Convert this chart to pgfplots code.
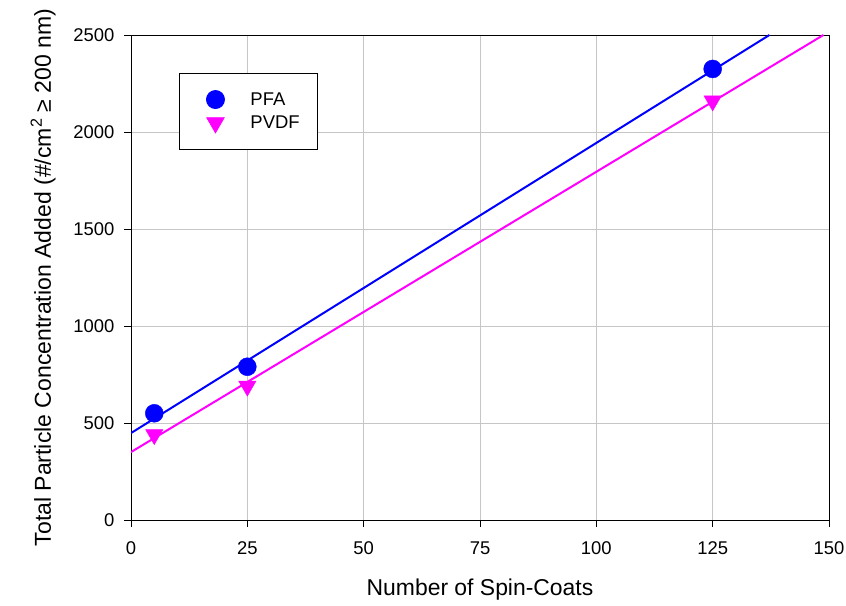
\documentclass[border=0pt]{standalone}
\usepackage{pgfplots}
\pgfplotsset{compat=1.18}
\usepackage{fontspec}
\setmainfont{Liberation Sans}
\definecolor{pfablue}{RGB}{0,0,255}
\definecolor{pvdfmag}{RGB}{255,0,255}
\begin{document}
\begin{tikzpicture}[x=1bp,y=1bp]
\path[use as bounding box] (0,0) rectangle (846,606);
\begin{axis}[
  at={(131bp,86bp)}, anchor=south west,
  scale only axis, width=698bp, height=485bp,
  xmin=0, xmax=150, ymin=0, ymax=2500,
  xtick={0,25,...,150}, ytick={0,500,...,2500},
  xtick pos=bottom, ytick pos=left,
  grid=major, grid style={gray!45, line width=0.8bp},
  axis line style={black, line width=0.9bp},
  tick align=outside, major tick length=7bp,
  tick style={black, line width=0.9bp},
  /pgf/number format/assume math mode=true,
  /pgf/number format/set thousands separator={},
  ticklabel style={font=\fontsize{18.5}{21}\selectfont},
  xticklabel style={yshift=-11bp},
  yticklabel style={xshift=-6bp},
  xlabel={Number of Spin-Coats},
  ylabel={Total Particle Concentration Added (\#/cm\textsuperscript{2} ≥ 200 nm)},
  x label style={font=\fontsize{23}{26}\selectfont, at={(axis description cs:0.5,-0.144)}, anchor=center},
  y label style={font=\fontsize{23.1}{26}\selectfont, at={(axis description cs:-0.126,0.5)}, anchor=center, rotate=0},
  legend style={at={(0.0688,0.9216)}, anchor=north west, draw=black, fill=white,
    line width=0.9bp, font=\fontsize{18.5}{21}\selectfont,
    inner xsep=16bp, inner ysep=17bp, row sep=5bp,
    /tikz/every odd column/.append style={column sep=15bp}},
  legend cell align=left,
  legend image code/.code={%
    \path[draw=none, fill=none] (0bp,-9bp) rectangle (38bp,9bp);
    \draw[#1] plot coordinates {(20bp,0bp)};},
]
% least-squares fit lines
\addplot[pfablue, line width=2bp, forget plot] coordinates {(0,448) (137.2,2500)};
\addplot[pvdfmag, line width=2bp, forget plot] coordinates {(0,350) (148.8,2500)};
% measured points
\addplot[only marks, mark=*, mark size=9bp, pfablue, mark options={fill=pfablue, draw=pfablue}]
  coordinates {(5,550) (25,790) (125,2325)};
\addlegendentry{PFA}
\addplot[only marks, mark=triangle*, mark size=10bp, pvdfmag, mark options={rotate=180, fill=pvdfmag, draw=pvdfmag}]
  coordinates {(5,440) (25,690) (125,2160)};
\addlegendentry{PVDF}
\end{axis}
\end{tikzpicture}
\end{document}
